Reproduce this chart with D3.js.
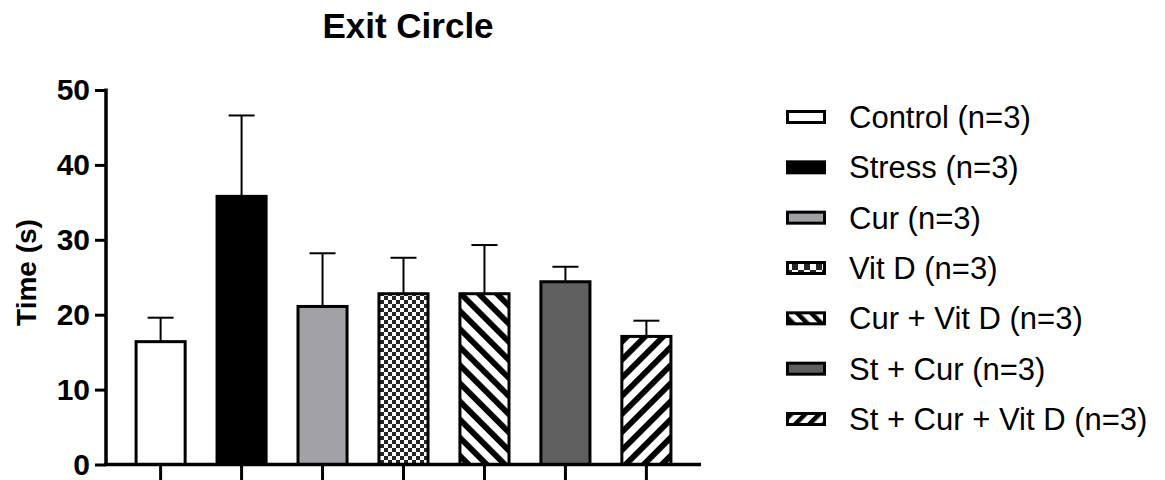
<!DOCTYPE html>
<html>
<head>
<meta charset="utf-8">
<script src="https://cdn.jsdelivr.net/npm/d3@7"></script>
<style>
  html, body { margin: 0; padding: 0; background: #fff; }
  svg { display: block; font-family: "Liberation Sans", Arial, sans-serif; }
</style>
</head>
<body>
<svg id="chart" width="1165" height="480"></svg>
<script>
// Group names, means and error (SEM) values for the exit-circle latency
const groups = ["Control (n=3)", "Stress (n=3)", "Cur (n=3)", "Vit D (n=3)",
                "Cur + Vit D (n=3)", "St + Cur (n=3)", "St + Cur + Vit D (n=3)"];
const means  = [16.4, 35.8, 21.1, 22.8, 22.8, 24.4, 17.1];
const errors = [3.2, 10.8, 7.1, 4.8, 6.5, 2.0, 2.1];
const yTicks = [0, 10, 20, 30, 40, 50];

// Fill style for each group (plain colours or pattern ids)
const fills = ["#ffffff", "#000000", "#a2a1a6", "url(#checker)",
               "url(#stripeBack)", "#606060", "url(#stripeFwd)"];
const legendFills = ["#ffffff", "#000000", "#a2a1a6", "url(#checkerL)",
               "url(#stripeBackL)", "#606060", "url(#stripeFwdL)"];

const svg = d3.select("#chart");
const defs = svg.append("defs");

function checker(id, cell, ox, oy) {
  const p = defs.append("pattern").attr("id", id)
    .attr("patternUnits", "userSpaceOnUse")
    .attr("x", ox).attr("y", oy)
    .attr("width", cell * 2).attr("height", cell * 2);
  p.append("rect").attr("width", cell * 2).attr("height", cell * 2).attr("fill", "#fff");
  p.append("rect").attr("width", cell).attr("height", cell).attr("fill", "#262626");
  p.append("rect").attr("x", cell).attr("y", cell).attr("width", cell).attr("height", cell).attr("fill", "#262626");
}
function stripes(id, angle, period, thick) {
  const p = defs.append("pattern").attr("id", id)
    .attr("patternUnits", "userSpaceOnUse")
    .attr("width", period).attr("height", period)
    .attr("patternTransform", `rotate(${angle})`);
  p.append("rect").attr("width", period).attr("height", period).attr("fill", "#fff");
  p.append("rect").attr("width", thick).attr("height", period).attr("fill", "#000");
}
checker("checker", 4, 0, 0);
stripes("stripeBack", -45, 12.8, 5.8);
stripes("stripeFwd", 45, 12.8, 5.8);
checker("checkerL", 6, 0, 0);
stripes("stripeBackL", -45, 10, 4.5);
stripes("stripeFwdL", 45, 10, 4.5);

// Scales
const x = d3.scaleBand().domain(groups).range([106, 701])
  .paddingInner(0.357).paddingOuter(0.353);
const y = d3.scaleLinear().domain([0, 50]).range([464.5, 90]);

// Title
svg.append("text").attr("x", 408).attr("y", 38)
  .attr("text-anchor", "middle").attr("font-size", 35).attr("font-weight", "bold")
  .text("Exit Circle");

// Y axis label
svg.append("text")
  .attr("transform", "translate(36,272.5) rotate(-90)")
  .attr("text-anchor", "middle").attr("font-size", 28).attr("font-weight", "bold")
  .text("Time (s)");

// Error bars (drawn beneath bars)
const eb = svg.append("g").attr("stroke", "#000").attr("stroke-width", 2);
groups.forEach((g, i) => {
  const cx = x(g) + x.bandwidth() / 2;
  eb.append("line").attr("x1", cx).attr("x2", cx)
    .attr("y1", y(means[i])).attr("y2", y(means[i] + errors[i]));
  eb.append("line").attr("x1", cx - 13).attr("x2", cx + 13)
    .attr("y1", y(means[i] + errors[i])).attr("y2", y(means[i] + errors[i]));
});

// Bars
svg.append("g").selectAll("rect").data(groups).join("rect")
  .attr("x", d => x(d) + 1.5)
  .attr("width", x.bandwidth() - 3)
  .attr("y", (d, i) => y(means[i]))
  .attr("height", (d, i) => y(0) - y(means[i]))
  .attr("fill", (d, i) => fills[i])
  .attr("stroke", "#000").attr("stroke-width", 3);

// Y axis
const yAxis = svg.append("g").attr("transform", "translate(106,0)")
  .call(d3.axisLeft(y).tickValues(yTicks).tickSize(11).tickPadding(5).tickSizeOuter(0));
yAxis.select(".domain").attr("stroke-width", 3.5).attr("d", `M0,${y(50) - 1.5}V${y(0)}`);
yAxis.selectAll(".tick line").attr("stroke-width", 3);
yAxis.selectAll(".tick text").attr("font-size", 30).attr("font-weight", "bold")
  .attr("font-family", "'Liberation Sans', Arial, sans-serif").attr("fill", "#000");

// X axis (ticks only, no labels)
const xAxis = svg.append("g").attr("transform", `translate(0,${y(0)})`)
  .call(d3.axisBottom(x).tickSize(16).tickSizeOuter(0).tickFormat(""));
xAxis.select(".domain").attr("stroke-width", 3.5).attr("d", `M104.25,0H701`);
xAxis.selectAll(".tick line").attr("stroke-width", 3);

// Legend
const legend = svg.append("g");
const legY = d3.scalePoint().domain(groups).range([117, 419]);
groups.forEach((g, i) => {
  const cy = legY(g);
  legend.append("rect").attr("x", 787.5).attr("y", cy - 5.5)
    .attr("width", 37).attr("height", 11)
    .attr("fill", legendFills[i]).attr("stroke", "#000").attr("stroke-width", 3);
  legend.append("text").attr("x", 849).attr("y", cy + 11)
    .attr("font-size", 31).attr("fill", "#000").text(g);
});
</script>
</body>
</html>
